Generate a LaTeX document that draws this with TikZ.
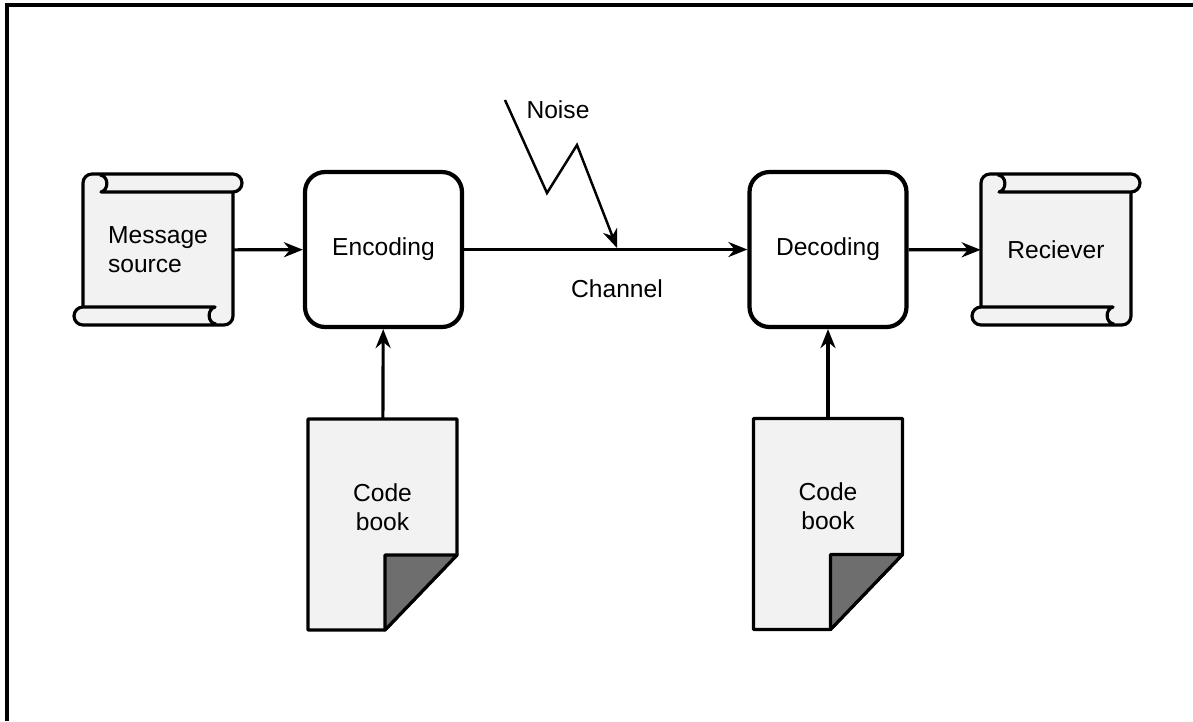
\documentclass[tikz,border=0pt]{standalone}
\usepackage{fontspec}
\setmainfont{Liberation Sans}
\usepackage{tikz}
\usetikzlibrary{shapes.geometric, arrows.meta, backgrounds}
\definecolor{sheet}{gray}{0.95}
\definecolor{fold}{gray}{0.43}
\tikzstyle{scroll} = [rectangle, minimum width=3cm, minimum height=3cm, align=left]
\tikzstyle{process} = [rectangle, rounded corners=0.4cm, minimum width=3.14cm, minimum height=3.1cm, draw=black, line width=2.4pt, fill=white]
\tikzstyle{page} = [rectangle, minimum width=2.98cm, minimum height=4.22cm, align=center]
\tikzstyle{arrow} = [line width=1.8pt,->,>={Stealth[length=0.38cm,width=0.3cm]}]
\tikzstyle{outline} = [line width=1.8pt, line join=round]

% scroll drawn round a named node (units are pixels)
\newcommand{\drawscroll}[1]{%
  \begin{scope}[shift={(#1.center)}]
    \fill[sheet] (-75,57) -- (-75,-67) arc (180:270:9) -- (75,-76) arc (-90:90:9) -- (75,66) arc (0:90:9) -- (-75,75) arc (90:270:9) -- cycle;
    \draw[outline] (-75,57) -- (-75,-67) arc (180:270:9) -- (75,-76) arc (-90:90:9) -- (-57,-58) .. controls (-49,-60) and (-49,-74) .. (-58,-75);
    \draw[outline] (75,-58) -- (75,66) arc (0:90:9) -- (-75,75) arc (90:270:9) -- (57,57) .. controls (49,59) and (49,73) .. (58,74);
  \end{scope}}
% dog-eared page round a named node
\newcommand{\drawpage}[1]{%
  \begin{scope}[shift={(#1.center)}]
    \draw[outline, fill=sheet] (-74.5,-105.5) -- (74.5,-105.5) -- (74.5,30.5) -- (2.5,105.5) -- (-74.5,105.5) -- cycle;
    \draw[outline, fill=fold] (2.5,105.5) -- (2.5,30.5) -- (74.5,30.5) -- cycle;
  \end{scope}}

\begin{document}
\begin{tikzpicture}[x=0.02cm, y=-0.02cm, font=\fontsize{14}{16.5}\selectfont]
\useasboundingbox (0,0) rectangle (1193,721);
\draw[line width=0.08cm] (1193,5) -- (7,5) -- (7,721);

\node (source) [scroll] at (158,250) {Message\\source};
\node (enc) [process] at (383.5,249.5) {Encoding};
\node (dec) [process] at (828,249.5) {Decoding};
\node (recv) [scroll] at (1056,250) {Reciever};
\node (book1) [page] at (382.5,524.5) {\raisebox{0.29cm}[\height][\depth]{\begin{tabular}{@{}c@{}}Code\\book\end{tabular}}};
\node (book2) [page] at (828,524) {\raisebox{0.29cm}[\height][\depth]{\begin{tabular}{@{}c@{}}Code\\book\end{tabular}}};
\node (chan) at (617,289) {Channel};
\node (noise) at (558,110) {Noise};
\coordinate (noisestart) at (505,100);
\coordinate (noisehit) at (617,248);

\begin{scope}[on background layer]
\drawscroll{source}
\drawscroll{recv}
\drawpage{book1}
\drawpage{book2}
\end{scope}

\draw [arrow] (source) -- (enc);
\draw [arrow] (enc) -- (dec);
\draw [arrow] (dec) -- (recv);
\draw [arrow] (book1) -- (enc);
\draw [arrow] (book2) -- (dec);
\draw [arrow, line width=1.4pt] (noisestart) -- (547,193) -- (577,145) -- (noisehit);
\end{tikzpicture}
\end{document}
